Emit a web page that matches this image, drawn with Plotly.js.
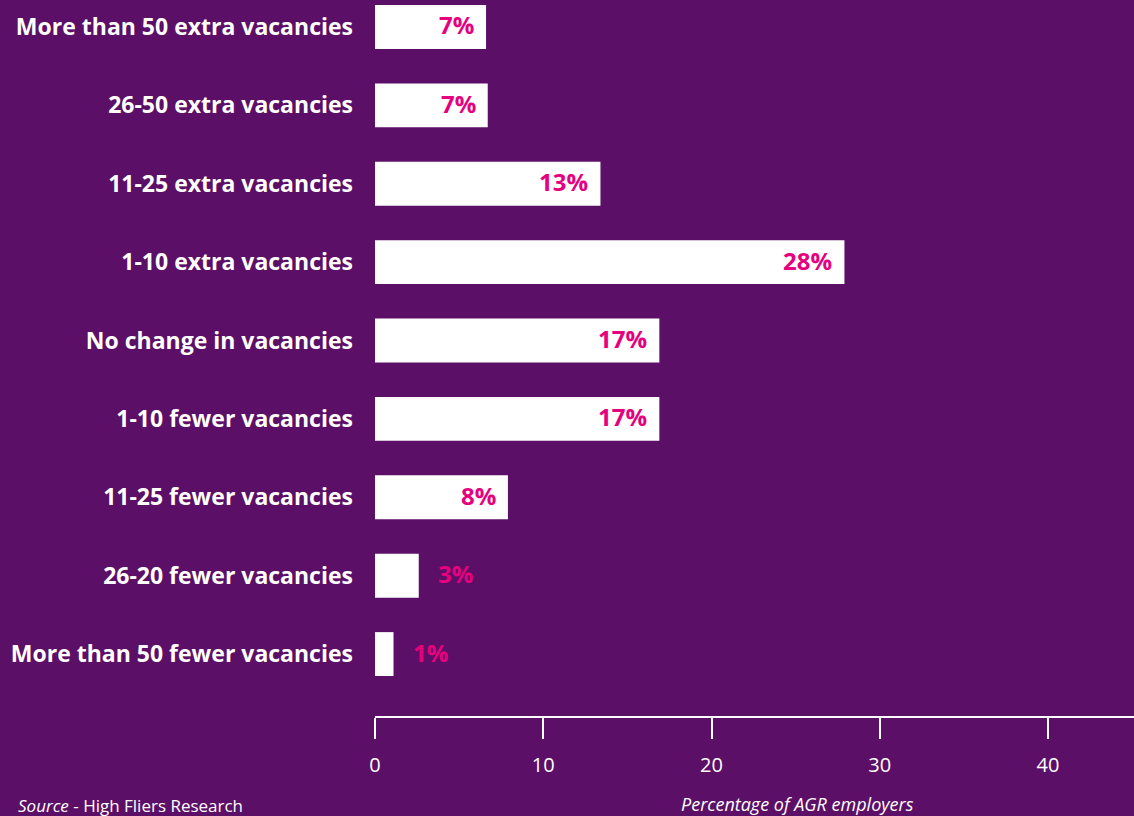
<!DOCTYPE html>
<html>
<head>
<meta charset="utf-8">
<script src="https://cdn.plot.ly/plotly-3.0.1.min.js"></script>
<style>
html,body{margin:0;padding:0;background:#5c0f66;}
#chart{width:1134px;height:816px;}
</style>
</head>
<body>
<div id="chart"></div>
<script>
const categories = [
  "More than 50 extra vacancies",
  "26-50 extra vacancies",
  "11-25 extra vacancies",
  "1-10 extra vacancies",
  "No change in vacancies",
  "1-10 fewer vacancies",
  "11-25 fewer vacancies",
  "26-20 fewer vacancies",
  "More than 50 fewer vacancies"
];
const barValues = [6.6, 6.7, 13.4, 27.9, 16.9, 16.9, 7.9, 2.6, 1.1];
const labelTexts = ["7%", "7%", "13%", "28%", "17%", "17%", "8%", "3%", "1%"];
const tickValues = [0, 10, 20, 30, 40];

const PINK = "#e6007e";
const BG = "#5c0f66";
const FONT = "Open Sans, Noto Sans, sans-serif";

const yCats = categories.slice().reverse();
const xVals = barValues.slice().reverse();
const txts = labelTexts.slice().reverse();

const annotations = yCats.map((c, i) => {
  const v = xVals[i];
  const inside = v >= 5;
  return {
    x: v, y: c, xref: "x", yref: "y",
    text: txts[i],
    showarrow: false,
    xanchor: inside ? "right" : "left",
    xshift: inside ? -10 : 17,
    yshift: 2,
    font: {family: FONT, size: 24, color: PINK, weight: 700}
  };
});

const W = 1134 - 375, H = 716;
annotations.push({
  x: (797 - 375) / W, y: -(804 - 716) / H, xref: "paper", yref: "paper",
  xanchor: "center", yanchor: "middle", showarrow: false,
  text: "<i>Percentage of AGR employers</i>",
  font: {family: FONT, size: 18, color: "#ffffff"}
});
annotations.push({
  x: (16 - 375) / W, y: -(805 - 716) / H,
  xref: "paper", yref: "paper", showarrow: false,
  xanchor: "left", yanchor: "middle",
  text: "<i>Source</i> - High Fliers Research",
  font: {family: FONT, size: 17, color: "#ffffff"}
});

const trace = {
  type: "bar",
  orientation: "h",
  y: yCats,
  x: xVals,
  marker: {color: "#ffffff", line: {width: 0}},
  width: 0.56,
  hoverinfo: "skip"
};

const layout = {
  width: 1134, height: 816,
  paper_bgcolor: BG, plot_bgcolor: BG,
  margin: {l: 375, r: 0, t: 0, b: 100},
  showlegend: false,
  xaxis: {
    range: [0, 45.11],
    tickvals: tickValues,
    ticktext: tickValues.map(String),
    showgrid: false, zeroline: false,
    showline: true, linecolor: "#ffffff", linewidth: 2,
    ticks: "outside", ticklen: 21, tickwidth: 2, tickcolor: "#ffffff",
    tickfont: {family: FONT, size: 20, color: "#ffffff"},
    ticklabelstandoff: 9,
    fixedrange: true
  },
  yaxis: {
    type: "category",
    range: [-0.79, 8.344],
    showgrid: false, zeroline: false, showline: false,
    ticks: "",
    ticklabelstandoff: 21,
    tickfont: {family: FONT, size: 23, color: "#ffffff", weight: 700},
    fixedrange: true
  },
  annotations: annotations
};

Plotly.newPlot("chart", [trace], layout, {displayModeBar: false, staticPlot: true});
</script>
</body>
</html>
